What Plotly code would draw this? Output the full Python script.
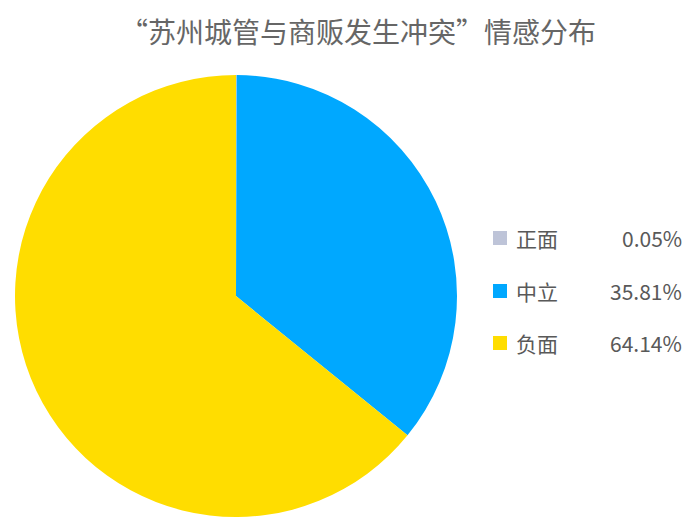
import plotly.graph_objects as go

title = "“苏州城管与商贩发生冲突”情感分布"
labels = ["正面", "中立", "负面"]
values = [0.05, 35.81, 64.14]
colors = ["#bec4d8", "#00a8ff", "#ffdd00"]

W, H = 700, 528
OX, OY = 8, 8  # page body margin offset


def px(x):
    return (x - OX) / W


def py(y):
    return 1 - (y - OY) / H


fig = go.Figure(go.Pie(
    labels=labels,
    values=values,
    sort=False,
    direction="clockwise",
    rotation=0,
    textinfo="none",
    hoverinfo="label+percent",
    marker=dict(colors=colors, line=dict(width=0)),
    domain=dict(x=[px(15), px(457)], y=[py(517), py(75)]),
    showlegend=False,
))

# hand-made legend on the right: square, label, right-aligned percentage
row_y = [238, 291, 343]
font = "Noto Sans CJK SC, Microsoft YaHei, sans-serif"
for i, lab in enumerate(labels):
    yc = py(row_y[i])
    fig.add_shape(type="rect", xref="paper", yref="paper",
                  x0=px(493), x1=px(507),
                  y0=yc - 7 / H, y1=yc + 7 / H,
                  fillcolor=colors[i], line=dict(width=0))
    fig.add_annotation(x=px(514), y=yc, xref="paper", yref="paper",
                       text=lab, showarrow=False, xanchor="left", yanchor="middle",
                       font=dict(family=font, size=21, color="#595959"))
    fig.add_annotation(x=px(684), y=yc, xref="paper", yref="paper",
                       text="%.2f%%" % values[i], showarrow=False,
                       xanchor="right", yanchor="middle",
                       font=dict(family=font, size=21, color="#595959"))

fig.update_layout(
    width=W, height=H,
    margin=dict(l=0, r=0, t=0, b=0),
    paper_bgcolor="white",
    title=dict(text=title, x=px(358), xanchor="center", y=py(33), yanchor="middle",
               font=dict(family=font, size=28, color="#666666")),
)

fig.write_html("out.html")
